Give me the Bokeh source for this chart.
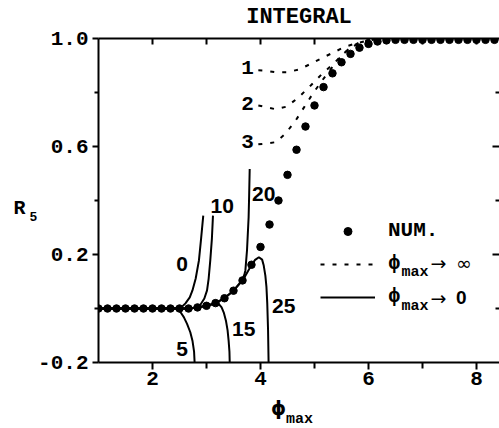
from bokeh.plotting import figure
from bokeh.models import (Range1d, LinearAxis, FixedTicker, Label, Legend, LegendItem,
                          CustomJSTickFormatter)
from bokeh.embed import file_html
from bokeh.resources import INLINE

MONO = "Liberation Mono"
SANS = "Liberation Sans"
PHI_FONT = "DejaVu Sans"

# ---------------- data ----------------
x_ticks = [2, 4, 6, 8]
x_minor = [3, 5, 7]
y_ticks = [-0.2, 0.2, 0.6, 1.0]
y_minor = [0.0, 0.4, 0.8]

# numerical result (dots)
num_x = [1.0, 1.167, 1.333, 1.5, 1.667, 1.833, 2.0, 2.167, 2.333, 2.5, 2.667,
         2.833, 3.0, 3.167, 3.333, 3.5, 3.667, 3.833, 4.0, 4.167, 4.333, 4.5,
         4.667, 4.833, 5.0, 5.167, 5.333, 5.5, 5.667, 5.833, 6.0, 6.167, 6.333,
         6.5, 6.667, 6.833, 7.0, 7.167, 7.333, 7.5, 7.667, 7.833, 8.0, 8.167, 8.333]
num_y = [0, 0, 0, 0, 0, 0, 0, 0, 0, 0, 0,
         0.004, 0.010, 0.020, 0.038, 0.066, 0.104, 0.162, 0.228, 0.311, 0.400, 0.495,
         0.588, 0.674, 0.752, 0.820, 0.871, 0.912, 0.943, 0.966, 0.980, 0.989, 0.993,
         0.995, 0.995, 0.995, 0.995, 0.995, 0.995, 0.995, 0.995, 0.995, 0.995, 0.995, 0.995]

# phi_max -> infinity expansions (dotted), orders 1, 2, 3
inf1_x = [3.96, 4.06, 4.28, 4.49, 4.71, 4.93, 5.14, 5.36, 5.57, 5.79, 6.0, 6.3]
inf1_y = [0.882, 0.881, 0.875, 0.875, 0.885, 0.906, 0.928, 0.949, 0.970, 0.983, 0.993, 1.0]
inf2_x = [3.96, 4.06, 4.28, 4.49, 4.71, 4.93, 5.13, 5.35, 5.53, 5.70, 5.9, 6.1]
inf2_y = [0.752, 0.748, 0.738, 0.748, 0.783, 0.826, 0.867, 0.906, 0.943, 0.970, 0.988, 0.997]
inf3_x = [3.96, 4.06, 4.28, 4.46, 4.65, 4.80, 4.96, 5.14, 5.33, 5.50, 5.67, 5.85, 6.05]
inf3_y = [0.608, 0.610, 0.616, 0.647, 0.696, 0.743, 0.793, 0.844, 0.894, 0.937, 0.968, 0.988, 0.997]

# phi_max -> 0 expansions (solid), orders 0, 5, 10, 15, 20, 25
z0_x = [1.0, 2.4, 2.52, 2.61, 2.69, 2.74, 2.80, 2.86, 2.90, 2.94]
z0_y = [0.0, 0.0, 0.002, 0.019, 0.041, 0.067, 0.111, 0.178, 0.259, 0.344]
z5_x = [1.0, 2.43, 2.52, 2.58, 2.64, 2.70, 2.74, 2.77, 2.78]
z5_y = [0.0, 0.0, -0.014, -0.032, -0.057, -0.088, -0.119, -0.16, -0.2]
z10_x = [1.0, 2.7, 2.81, 2.89, 2.96, 3.01, 3.04, 3.07, 3.10, 3.12]
z10_y = [0.0, 0.0, 0.004, 0.015, 0.037, 0.067, 0.111, 0.178, 0.259, 0.344]
z15_x = [1.0, 2.67, 2.83, 3.0, 3.17, 3.23, 3.28, 3.32, 3.36, 3.39, 3.41, 3.425, 3.43]
z15_y = [0.0, 0.0, 0.004, 0.010, 0.018, 0.016, 0.004, -0.015, -0.045, -0.08, -0.12, -0.16, -0.2]
z20_x = [1.0, 2.67, 2.83, 3.0, 3.17, 3.33, 3.5, 3.6, 3.66, 3.70, 3.72, 3.75, 3.78, 3.79, 3.80]
z20_y = [0.0, 0.0, 0.004, 0.010, 0.020, 0.038, 0.066, 0.09, 0.106, 0.124, 0.141, 0.215, 0.338, 0.42, 0.517]
z25_x = [1.0, 2.67, 2.83, 3.0, 3.17, 3.33, 3.5, 3.67, 3.83, 3.90, 3.97, 4.03, 4.06, 4.09,
         4.11, 4.125, 4.14, 4.15]
z25_y = [0.0, 0.0, 0.004, 0.010, 0.020, 0.038, 0.066, 0.104, 0.160, 0.180, 0.190, 0.181,
         0.159, 0.122, 0.080, 0.02, -0.08, -0.2]

inf_curves = [(inf1_x, inf1_y), (inf2_x, inf2_y), (inf3_x, inf3_y)]
zero_curves = [(z0_x, z0_y), (z5_x, z5_y), (z10_x, z10_y), (z15_x, z15_y),
               (z20_x, z20_y), (z25_x, z25_y)]

# curve labels: (text, x, y, font)
curve_labels = [("1", 3.76, 0.893, MONO), ("2", 3.76, 0.759, MONO), ("3", 3.76, 0.619, MONO),
                ("0", 2.55, 0.166, SANS), ("10", 3.29, 0.381, SANS), ("20", 4.06, 0.425, SANS),
                ("5", 2.55, -0.149, SANS), ("15", 3.69, -0.075, SANS), ("25", 4.43, 0.011, SANS)]

# ---------------- figure ----------------
p = figure(width=499, height=428, x_range=Range1d(1.0, 8.426), y_range=Range1d(-0.2, 1.0),
           output_backend="svg", toolbar_location=None,
           x_axis_location=None, y_axis_location=None,
           min_border_left=98, min_border_right=0, min_border_top=38, min_border_bottom=66)
p.grid.visible = False
p.outline_line_color = None
p.background_fill_color = "white"
p.border_fill_color = "white"


def style(ax):
    ax.axis_line_width = 2
    ax.axis_line_color = "black"
    ax.major_tick_line_width = 2
    ax.minor_tick_line_width = 2
    ax.major_tick_line_color = "black"
    ax.minor_tick_line_color = "black"
    ax.major_label_text_font = MONO
    ax.major_label_text_font_style = "bold"
    ax.major_label_text_font_size = "21px"
    ax.major_label_text_color = "black"


bottom = LinearAxis(ticker=FixedTicker(ticks=x_ticks, minor_ticks=x_minor))
style(bottom)
bottom.major_tick_out = 7
bottom.major_tick_in = 0
bottom.minor_tick_out = 6
bottom.minor_tick_in = 0
bottom.major_label_standoff = 2
p.add_layout(bottom, "below")

left = LinearAxis(ticker=FixedTicker(ticks=y_ticks, minor_ticks=y_minor),
                  formatter=CustomJSTickFormatter(code="return tick.toFixed(1)"))
style(left)
left.major_tick_out = 6
left.major_tick_in = 0
left.minor_tick_out = 4
left.minor_tick_in = 0
left.major_label_standoff = 4
p.add_layout(left, "left")

top = LinearAxis(ticker=FixedTicker(ticks=[2, 3, 4, 5, 6, 7, 8], minor_ticks=[]))
style(top)
top.major_tick_in = 6
top.major_tick_out = 0
top.major_label_text_font_size = "1px"
top.major_label_text_color = None
top.major_label_standoff = 0
p.add_layout(top, "above")

right = LinearAxis(ticker=FixedTicker(ticks=[0.2, 0.6], minor_ticks=[0.0, 0.4, 0.8]))
style(right)
right.axis_line_color = None
right.major_tick_in = 7
right.major_tick_out = 0
right.minor_tick_in = 4
right.minor_tick_out = 0
right.major_label_text_font_size = "1px"
right.major_label_text_color = None
right.major_label_standoff = 0
p.add_layout(right, "right")

# curves
inf_renderers = []
for cx, cy in inf_curves:
    inf_renderers.append(p.line(cx, cy, line_color="black", line_width=2, line_dash="4 8"))
zero_renderers = []
for cx, cy in zero_curves:
    zero_renderers.append(p.line(cx, cy, line_color="black", line_width=2))
r_num = p.scatter(num_x, num_y, size=7.5, color="black")

for txt, lx, ly, fnt in curve_labels:
    p.add_layout(Label(x=lx, y=ly, text=txt, text_font=fnt, text_font_style="bold",
                       text_font_size="21px", text_align="center", text_baseline="middle",
                       text_color="black"))

# legend
legend = Legend(items=[LegendItem(label="NUM.", renderers=[r_num]),
                       LegendItem(label="ϕ", renderers=[inf_renderers[0]]),
                       LegendItem(label="ϕ", renderers=[zero_renderers[0]])],
                location=(222, 54), glyph_width=55, glyph_height=20, label_height=20,
                spacing=10, padding=0, margin=0, label_standoff=13,
                border_line_color=None, background_fill_alpha=0,
                label_text_font=MONO, label_text_font_style="bold",
                label_text_font_size="21px", label_text_color="black")
p.add_layout(legend)


def add_text(txt, x, y, size, font=MONO, style="bold", align="left", baseline="middle",
             place="center"):
    lab = Label(x=x, y=y, text=txt, text_font=font, text_font_style=style,
                text_font_size=size, text_align=align, text_baseline=baseline,
                text_color="black")
    if place == "center":
        p.add_layout(lab)
    else:
        p.add_layout(lab, place)


# legend subscripts / arrows
add_text("max", 6.61, 0.133, "15px")
add_text("→", 7.15, 0.167, "19px", font="DejaVu Sans", style="normal")
add_text("∞", 7.62, 0.167, "19px", font="DejaVu Sans", style="normal")
add_text("max", 6.61, 0.007, "15px")
add_text("→", 7.15, 0.040, "19px", font="DejaVu Sans", style="normal")
add_text("0", 7.62, 0.040, "19px", font=SANS, style="bold")

# title and axis labels (outside the frame, placed in side panels)
add_text("INTEGRAL", 4.713, 1.078, "22px", align="center", place="above")
add_text("R", -0.463, 0.370, "20px", align="center", place="left")
add_text("5", -0.204, 0.341, "13px", align="center", place="left")
add_text("ϕ", 4.333, -0.370, "19px", font=PHI_FONT, align="center", place="below")
add_text("max", 4.47, -0.411, "15px", place="below")

open("out.html", "w").write(file_html(p, INLINE))
